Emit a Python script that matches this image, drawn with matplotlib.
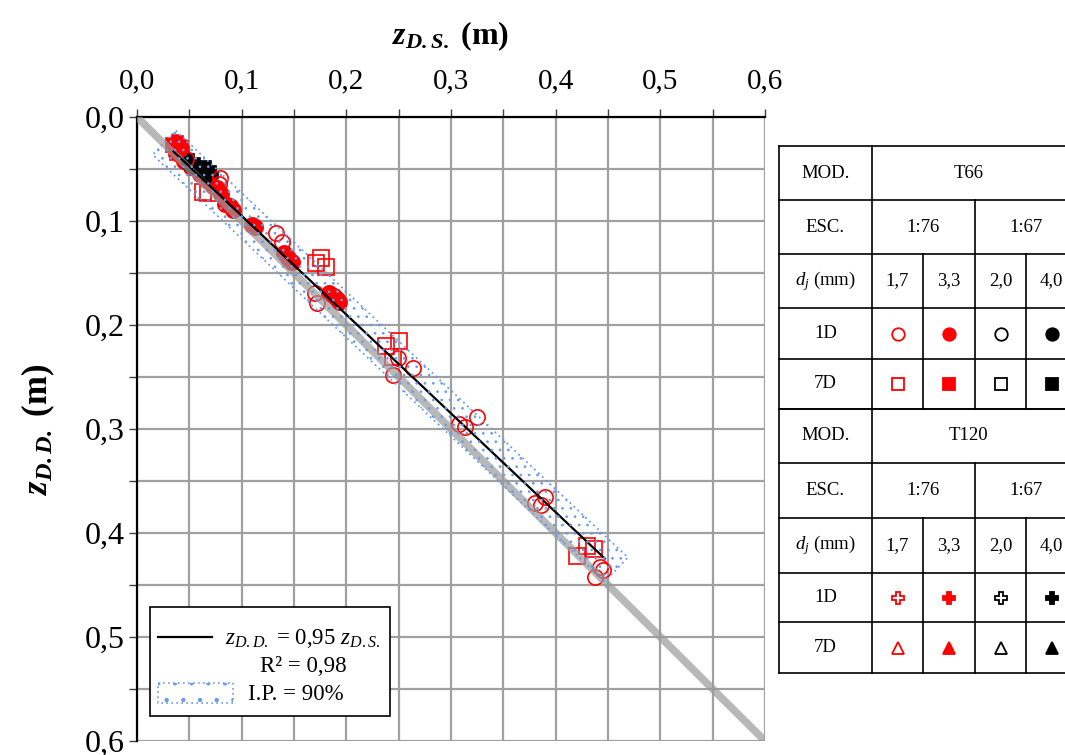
import matplotlib
matplotlib.use("Agg")
import matplotlib.pyplot as plt
from matplotlib.patches import Polygon, Rectangle
from matplotlib.ticker import MultipleLocator, FuncFormatter
import numpy as np

plt.rcParams["font.family"] = ["Liberation Serif", "DejaVu Serif"]
plt.rcParams["mathtext.fontset"] = "custom"
plt.rcParams["mathtext.rm"] = "Liberation Serif"
plt.rcParams["mathtext.it"] = "Liberation Serif:italic"
plt.rcParams["mathtext.bf"] = "Liberation Serif:bold"
plt.rcParams["mathtext.bfit"] = "Liberation Serif:bold:italic"
plt.rcParams["hatch.linewidth"] = 0.7

# ---- measured depths (m): z_DS (horizontal), z_DD (vertical) ----
# T66, 1:76, dj = 1,7 mm, 1D (red open circles)
t66_17_1d_x = [0.047, 0.079, 0.078, 0.133, 0.139, 0.170, 0.172, 0.249, 0.264, 0.245,
               0.308, 0.313, 0.325, 0.380, 0.386, 0.390, 0.4375, 0.442, 0.445]
t66_17_1d_y = [0.040, 0.059, 0.064, 0.1115, 0.120, 0.169, 0.179, 0.232, 0.241, 0.248,
               0.295, 0.298, 0.288, 0.371, 0.373, 0.365, 0.442, 0.433, 0.4355]
# T66, 1:76, dj = 3,3 mm, 1D (red filled circles)
t66_33_1d_x = [0.045, 0.052, 0.060, 0.068, 0.073, 0.076, 0.080, 0.084, 0.089, 0.092,
               0.110, 0.113, 0.140, 0.144, 0.148, 0.183, 0.188, 0.191, 0.193]
t66_33_1d_y = [0.042, 0.048, 0.055, 0.062, 0.066, 0.068, 0.074, 0.084, 0.086, 0.089,
               0.104, 0.106, 0.131, 0.136, 0.139, 0.169, 0.172, 0.175, 0.178]
# T66, 1:76, dj = 1,7 mm, 7D (red open squares)
t66_17_7d_x = [0.063, 0.068, 0.171, 0.176, 0.181, 0.238, 0.250, 0.245, 0.420, 0.430, 0.4365]
t66_17_7d_y = [0.072, 0.073, 0.140, 0.1356, 0.144, 0.220, 0.215, 0.231, 0.422, 0.4125, 0.415]
# T66, 1:76, dj = 3,3 mm, 7D (red filled squares)
t66_33_7d_x = [0.034, 0.037, 0.040, 0.038, 0.043]
t66_33_7d_y = [0.027, 0.031, 0.029, 0.035, 0.036]
# T66, 1:67, dj = 4,0 mm, 1D (black filled circles)
t66_40_1d_x = [0.050, 0.054]
t66_40_1d_y = [0.044, 0.047]
# T120, 1:76, dj = 3,3 mm, 1D (red filled crosses)
t120_33_1d_x = [0.036, 0.041]
t120_33_1d_y = [0.025, 0.026]
# T120, 1:67, dj = 4,0 mm, 1D (black filled crosses)
t120_40_1d_x = [0.052, 0.057, 0.061, 0.065, 0.068, 0.070]
t120_40_1d_y = [0.043, 0.047, 0.050, 0.054, 0.050, 0.056]

slope = 0.95
fit_x = [0.035, 0.447]
band_half = 0.016      # half-width of the prediction band, normal to the fit
band_ext = [0.026, 0.458]

RED = "#ff0000"
BLUE = "#6a9be8"

fig = plt.figure(figsize=(10.65, 7.55), dpi=100)
ax = fig.add_axes([137 / 1065, 1 - 741 / 755, (765 - 137) / 1065, (741 - 117) / 755])
ax.set_xlim(0, 0.6)
ax.set_ylim(0.6, 0)

ax.xaxis.tick_top()
ax.xaxis.set_label_position("top")
ax.xaxis.set_major_locator(MultipleLocator(0.1))
ax.yaxis.set_major_locator(MultipleLocator(0.1))
ax.xaxis.set_minor_locator(MultipleLocator(0.05))
ax.yaxis.set_minor_locator(MultipleLocator(0.05))
fmt = FuncFormatter(lambda v, p: f"{v:.1f}".replace(".", ","))
ax.xaxis.set_major_formatter(fmt)
ax.yaxis.set_major_formatter(fmt)
ax.tick_params(which="both", direction="out", length=6, width=1.0, color="#404040")
ax.tick_params(axis="x", labelsize=21, pad=10)
ax.tick_params(axis="y", labelsize=23, pad=3)
ax.grid(which="both", color="#a0a0a0", linewidth=1.6, zorder=0)
ax.set_axisbelow(True)
for s in ("right", "bottom"):
    ax.spines[s].set_visible(False)
for s in ("top", "left"):
    ax.spines[s].set_linewidth(1.6)

ax.set_xlabel(r"$\mathbfit{z}_{\mathbfit{D.S.}}$ (m)", fontsize=23, fontweight="bold", labelpad=18)
ax.set_ylabel(r"$\mathbfit{z}_{\mathbfit{D.D.}}$ (m)", fontsize=25, fontweight="bold", labelpad=20)

mk = dict(linestyle="none", markeredgewidth=1.2, zorder=3)
ax.plot(t66_33_1d_x, t66_33_1d_y, marker="o", ms=11, color=RED, **mk)
ax.plot(t66_33_7d_x, t66_33_7d_y, marker="s", ms=10, color=RED, **mk)
ax.plot(t120_33_1d_x, t120_33_1d_y, marker="P", ms=11, color=RED, **mk)
ax.plot(t66_40_1d_x, t66_40_1d_y, marker="o", ms=11, color="black", **mk)
ax.plot(t120_40_1d_x, t120_40_1d_y, marker="P", ms=11, color="black", **mk)
ax.plot(t66_17_1d_x, t66_17_1d_y, marker="o", ms=11, mfc="none", mec=RED, **mk)
ax.plot(t66_17_7d_x, t66_17_7d_y, marker="s", ms=11, mfc="none", mec=RED, **mk)

# 1:1 reference line
ax.plot([0, 0.6], [0, 0.6], color="#9a9a9a", lw=5.5, alpha=0.7, solid_capstyle="butt", zorder=4)
# fitted line
fx = np.array(fit_x)
ax.plot(fx, slope * fx, color="black", lw=1.6, zorder=5)

# prediction band (rectangle along the fitted line)
nrm = np.array([slope, -1.0]) / np.hypot(1.0, slope)
p0 = np.array([band_ext[0], slope * band_ext[0]])
p1 = np.array([band_ext[1], slope * band_ext[1]])
corners = [p0 + band_half * nrm, p1 + band_half * nrm, p1 - band_half * nrm, p0 - band_half * nrm]
ax.add_patch(Polygon(corners, closed=True, fill=False, hatch="..", edgecolor=BLUE, lw=0, zorder=6))
ax.add_patch(Polygon(corners, closed=True, fill=False, edgecolor=BLUE, lw=1.3,
                     linestyle=(0, (1, 2)), zorder=6))

# ---- overlay in pixel coordinates: legend box and marker table ----
ov = fig.add_axes([0, 0, 1, 1], zorder=10)
ov.set_xlim(0, 1065)
ov.set_ylim(755, 0)
ov.axis("off")
ov.patch.set_alpha(0)

ov.add_patch(Rectangle((150, 607), 240, 109, facecolor="white", edgecolor="black", lw=1.2))
ov.plot([158, 212], [637, 637], color="black", lw=1.6)
ov.text(225, 638, r"$z_{D.D.}$ = 0,95 $z_{D.S.}$", fontsize=16.5, va="center", ha="left")
ov.text(303, 667, "R² = 0,98", fontsize=16.5, va="center", ha="center")
ov.add_patch(Rectangle((158, 683), 75, 20, fill=False, hatch=".", edgecolor=BLUE, lw=0))
ov.add_patch(Rectangle((158, 683), 75, 20, fill=False, edgecolor=BLUE, lw=1.2, linestyle=(0, (1, 2))))
ov.text(248, 694, "I.P. = 90%", fontsize=16.5, va="center", ha="left")

col_x = [779, 872, 923, 975, 1026, 1077]
blocks = [
    ("T66", [146, 200, 254, 308, 359, 409], ["o", "s"]),
    ("T120", [409, 463, 518, 573, 622, 673], ["P", "^"]),
]
scales = ["1:76", "1:67"]
diam = ["1,7", "3,3", "2,0", "4,0"]
rows = ["1D", "7D"]
colors = [RED, RED, "black", "black"]
filled = [False, True, False, True]

lk = dict(color="black", lw=1.2)
fs = 13.5
for model, ry, shapes in blocks:
    for y in ry:
        ov.plot([col_x[0], col_x[-1]], [y, y], **lk)
    ov.plot([col_x[0], col_x[0]], [ry[0], ry[-1]], **lk)
    ov.plot([col_x[1], col_x[1]], [ry[0], ry[-1]], **lk)
    ov.plot([col_x[3], col_x[3]], [ry[1], ry[-1]], **lk)
    for c in (2, 4):
        ov.plot([col_x[c], col_x[c]], [ry[2], ry[-1]], **lk)
    cy = [(ry[i] + ry[i + 1]) / 2 for i in range(5)]
    cx = [(col_x[i] + col_x[i + 1]) / 2 for i in range(5)]
    ov.text(cx[0], cy[0], "MOD.", fontsize=fs, ha="center", va="center")
    ov.text((col_x[1] + col_x[-1]) / 2 - 6, cy[0], model, fontsize=fs, ha="center", va="center")
    ov.text(cx[0], cy[1], "ESC.", fontsize=fs, ha="center", va="center")
    ov.text((col_x[1] + col_x[3]) / 2, cy[1], scales[0], fontsize=fs, ha="center", va="center")
    ov.text((col_x[3] + col_x[5]) / 2, cy[1], scales[1], fontsize=fs, ha="center", va="center")
    ov.text(cx[0], cy[2], r"$d_j$ (mm)", fontsize=fs, ha="center", va="center")
    for i, lab in enumerate(diam):
        ov.text(cx[i + 1], cy[2], lab, fontsize=fs, ha="center", va="center")
    for r, (rl, shp) in enumerate(zip(rows, shapes)):
        ov.text(cx[0], cy[3 + r], rl, fontsize=fs, ha="center", va="center")
        for i in range(4):
            face = colors[i] if filled[i] else "white"
            ov.plot(cx[i + 1], cy[3 + r], marker=shp, ms=9, mfc=face, mec=colors[i],
                    mew=1.3, clip_on=False)

fig.savefig("out.png", dpi=100)
